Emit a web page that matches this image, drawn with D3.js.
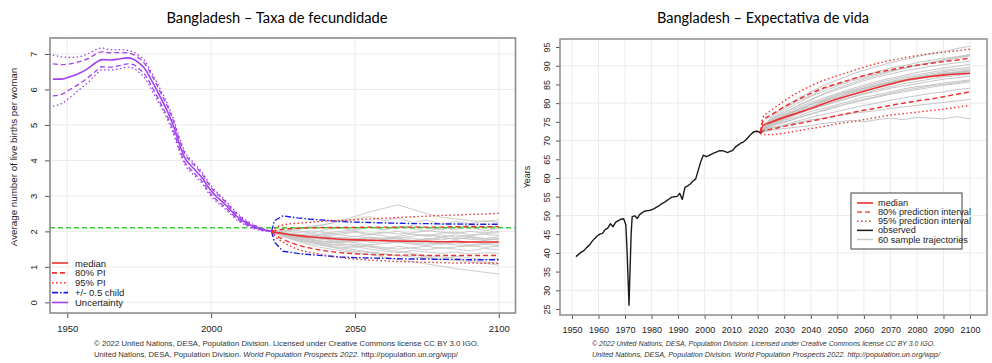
<!DOCTYPE html>
<html><head><meta charset="utf-8">
<script src="https://cdn.jsdelivr.net/npm/d3@7"></script>
<style>body{margin:0;background:#fff} svg{display:block}</style>
</head><body>
<svg id="c" width="992" height="363"></svg>
<script>
// ---------------- DATA: left chart (total fertility) ----------------
const fertXTicks = [1950, 2000, 2050, 2100];
const fertYTicks = [0, 1, 2, 3, 4, 5, 6, 7];
const replacementLevel = 2.1;

const fertPastYears  = [1945,1948,1951,1954,1957,1960,1962,1965,1968,1971,1973,1975,1977,1979,1981,1983,1985,1987,1989,1991,1993,1995,1997,1999,2001,2003,2005,2007,2009,2011,2013,2015,2017,2019,2021];
const fertPastMedian = [6.29,6.29,6.36,6.45,6.58,6.76,6.84,6.83,6.86,6.89,6.85,6.74,6.58,6.30,6.00,5.68,5.35,4.95,4.45,4.05,3.85,3.68,3.50,3.25,3.05,2.90,2.75,2.58,2.42,2.30,2.20,2.13,2.07,2.03,2.00];
const fertPastUp95   = [6.97,6.92,6.90,6.92,7.00,7.12,7.17,7.12,7.12,7.10,7.05,6.95,6.80,6.52,6.22,5.90,5.56,5.15,4.64,4.23,4.02,3.84,3.65,3.40,3.19,3.03,2.87,2.69,2.52,2.38,2.27,2.18,2.11,2.05,2.00];
const fertPastUp80   = [6.72,6.70,6.72,6.78,6.86,7.00,7.06,7.03,7.04,7.03,6.98,6.88,6.72,6.45,6.15,5.82,5.49,5.08,4.58,4.17,3.96,3.79,3.60,3.35,3.14,2.99,2.83,2.65,2.49,2.35,2.24,2.16,2.09,2.04,2.00];
const fertPastLow80  = [5.82,5.86,6.00,6.15,6.32,6.52,6.64,6.63,6.67,6.72,6.70,6.58,6.42,6.14,5.84,5.52,5.20,4.81,4.32,3.93,3.74,3.57,3.40,3.15,2.96,2.81,2.67,2.51,2.36,2.25,2.16,2.10,2.05,2.02,2.00];
const fertPastLow95  = [5.53,5.60,5.78,5.98,6.18,6.42,6.55,6.55,6.58,6.63,6.60,6.48,6.32,6.04,5.74,5.44,5.12,4.73,4.25,3.86,3.67,3.51,3.34,3.09,2.90,2.76,2.62,2.47,2.32,2.22,2.13,2.08,2.03,2.01,2.00];

const fertProjYears  = [2021,2022,2025,2030,2035,2040,2045,2050,2055,2060,2065,2070,2075,2080,2085,2090,2095,2100];
const fertProjMedian = [2.00,1.98,1.94,1.88,1.84,1.81,1.78,1.76,1.75,1.74,1.73,1.72,1.72,1.71,1.71,1.70,1.70,1.70];
const fertProjUp80   = [2.00,2.02,2.06,2.09,2.10,2.11,2.11,2.11,2.12,2.12,2.12,2.12,2.12,2.12,2.13,2.13,2.13,2.13];
const fertProjLow80  = [2.00,1.92,1.78,1.62,1.52,1.45,1.40,1.37,1.35,1.34,1.33,1.33,1.32,1.32,1.32,1.32,1.32,1.32];
const fertProjUp95   = [2.00,2.08,2.18,2.23,2.26,2.29,2.31,2.33,2.35,2.37,2.39,2.41,2.43,2.45,2.46,2.48,2.49,2.51];
const fertProjLow95  = [2.00,1.88,1.70,1.50,1.40,1.32,1.26,1.22,1.19,1.17,1.15,1.14,1.13,1.12,1.11,1.11,1.10,1.10];
const fertHalfUp     = [2.00,2.30,2.44,2.38,2.34,2.31,2.28,2.26,2.25,2.24,2.23,2.22,2.22,2.21,2.21,2.20,2.20,2.20];
const fertHalfLow    = [2.00,1.70,1.44,1.38,1.34,1.31,1.28,1.26,1.25,1.24,1.23,1.22,1.22,1.21,1.21,1.20,1.20,1.20];

const trajYears = [2021,2025,2030,2035,2040,2045,2050,2055,2060,2065,2070,2075,2080,2085,2090,2095,2100];
const fertTraj = [
 [2.0,1.98,2.02,1.95,2.05,2.10,2.02,2.12,2.05,2.15,2.08,2.00,2.10,2.05,2.12,2.02,2.08],
 [2.0,1.90,1.80,1.72,1.65,1.60,1.55,1.62,1.50,1.58,1.52,1.48,1.55,1.50,1.45,1.52,1.48],
 [2.0,1.95,1.92,1.88,1.95,1.90,1.85,1.92,1.88,1.80,1.86,1.92,1.84,1.90,1.86,1.80,1.85],
 [2.0,1.88,1.75,1.70,1.62,1.55,1.48,1.42,1.38,1.30,1.35,1.28,1.22,1.30,1.25,1.20,1.24],
 [2.0,2.02,2.08,2.15,2.20,2.28,2.35,2.42,2.30,2.38,2.25,2.32,2.20,2.28,2.22,2.30,2.25],
 [2.0,1.92,1.85,1.78,1.82,1.75,1.70,1.78,1.72,1.68,1.75,1.70,1.65,1.72,1.68,1.74,1.70],
 [2.0,1.90,1.82,1.76,1.70,1.72,1.68,1.62,1.66,1.70,1.64,1.60,1.66,1.62,1.58,1.64,1.60],
 [2.0,1.96,1.90,1.94,1.88,1.92,1.98,1.90,1.95,2.00,1.92,1.88,1.95,1.98,1.90,1.94,1.96],
 [2.0,1.85,1.72,1.60,1.52,1.45,1.40,1.35,1.28,1.20,1.15,1.08,1.02,0.95,0.90,0.85,0.80],
 [2.0,1.94,1.88,1.84,1.78,1.74,1.80,1.76,1.82,1.78,1.74,1.80,1.76,1.82,1.78,1.75,1.80],
 [2.0,2.00,2.05,2.12,2.20,2.30,2.42,2.55,2.65,2.75,2.62,2.50,2.40,2.35,2.30,2.28,2.32],
 [2.0,1.90,1.78,1.68,1.60,1.52,1.58,1.50,1.45,1.40,1.46,1.42,1.38,1.42,1.36,1.40,1.38],
 [2.0,1.92,1.86,1.90,1.84,1.80,1.86,1.82,1.78,1.84,1.80,1.76,1.82,1.78,1.84,1.80,1.76],
 [2.0,1.94,1.90,1.86,1.92,1.96,2.00,1.94,1.98,1.92,1.96,2.02,1.98,1.94,2.00,1.96,2.00],
 [2.0,1.88,1.78,1.72,1.66,1.62,1.64,1.58,1.55,1.50,1.54,1.58,1.52,1.56,1.60,1.55,1.58],
 [2.0,1.92,1.84,1.76,1.70,1.66,1.60,1.56,1.50,1.44,1.38,1.32,1.28,1.24,1.18,1.14,1.10],
 [2.0,1.96,1.92,1.86,1.80,1.84,1.78,1.72,1.76,1.70,1.66,1.70,1.64,1.68,1.62,1.66,1.64],
 [2.0,1.94,1.96,2.02,1.96,2.00,2.06,2.12,2.05,2.10,2.16,2.10,2.05,2.12,2.18,2.12,2.15],
 [2.0,1.90,1.82,1.75,1.72,1.68,1.74,1.70,1.66,1.72,1.68,1.64,1.70,1.74,1.70,1.66,1.72],
 [2.0,1.86,1.74,1.65,1.58,1.50,1.44,1.40,1.36,1.32,1.28,1.25,1.20,1.18,1.14,1.10,1.05],
 [2.0,1.96,1.88,1.82,1.86,1.82,1.78,1.84,1.80,1.86,1.92,1.86,1.90,1.84,1.88,1.92,1.88],
 [2.0,1.92,1.86,1.80,1.76,1.70,1.76,1.82,1.76,1.80,1.74,1.78,1.84,1.78,1.82,1.76,1.80]
];

// ---------------- DATA: right chart (life expectancy) ----------------
const leXTicks = [1950,1960,1970,1980,1990,2000,2010,2020,2030,2040,2050,2060,2070,2080,2090,2100];
const leYTicks = [25,30,35,40,45,50,55,60,65,70,75,80,85,90,95];
const leGridY  = [30,40,50,60,70,80,90];

const leObsYears  = [1951.5,1952.5,1953.5,1954.5,1955.5,1956.5,1957.5,1958.5,1959.5,1960.5,1961.5,1962.5,1963.5,1964.5,1965.5,1966.5,1967.5,1968.5,1969.5,1970.3,1970.8,1971.5,1972.3,1972.7,1973.7,1974.6,1975.6,1976.6,1977.6,1978.6,1979.6,1980.6,1981.6,1982.6,1983.6,1984.6,1985.6,1986.6,1987.6,1988.6,1989.6,1990.6,1991.6,1992.6,1993.6,1994.6,1995.6,1996.6,1997.6,1998.6,1999.5,2000.6,2001.6,2002.6,2003.6,2004.6,2005.6,2006.6,2007.6,2008.6,2009.6,2010.6,2011.6,2012.6,2013.6,2014.6,2015.6,2016.6,2017.6,2018.6,2019.6,2020.4,2021];
const leObsValues = [39.0,39.6,40.2,40.6,41.4,42.0,43.0,43.8,44.5,45.0,45.2,46.2,46.6,47.8,47.0,48.2,48.6,49.0,49.1,47.5,40.0,26.0,45.0,49.7,49.9,49.2,50.3,50.8,51.2,51.3,51.4,51.7,52.1,52.5,53.0,53.4,53.9,54.4,54.9,55.0,55.1,55.9,54.3,57.5,57.9,58.4,59.2,59.7,62.1,64.5,66.1,65.7,66.0,66.4,66.7,67.0,67.3,67.3,67.1,66.8,67.1,67.4,68.3,68.8,69.3,69.6,70.2,71.0,71.8,72.4,72.5,72.4,72.0];

const leProjYears  = [2021,2022,2025,2030,2035,2040,2045,2050,2055,2060,2065,2070,2075,2080,2085,2090,2095,2100];
const leProjMedian = [72.0,74.0,74.9,76.2,77.4,78.6,79.9,81.1,82.2,83.2,84.2,85.1,86.0,86.6,87.1,87.5,87.8,88.0];
const leProjUp80   = [72.0,75.3,76.8,79.0,80.9,82.6,84.1,85.2,86.3,87.3,88.2,88.9,89.6,90.1,90.6,91.1,91.5,92.0];
const leProjLow80  = [72.0,72.6,73.0,73.8,74.5,75.2,75.9,76.7,77.4,78.1,78.7,79.4,80.0,80.6,81.1,81.7,82.4,83.0];
const leProjUp95   = [72.0,76.2,78.0,80.6,82.8,84.6,86.1,87.3,88.5,89.6,90.6,91.4,92.1,92.7,93.2,93.6,94.0,94.4];
const leProjLow95  = [72.0,71.6,71.6,72.0,72.6,73.2,73.8,74.5,75.0,75.6,76.2,76.8,77.2,77.6,78.0,78.4,78.9,79.4];

const leTraj = [
 [72.0,75.5,77.5,79.2,80.8,82.4,83.6,84.8,86.0,87.0,87.8,88.6,89.2,89.8,90.3,90.8,91.2],
 [72.0,74.2,75.0,76.0,77.2,78.0,79.0,80.2,81.0,81.8,82.6,83.4,84.0,84.6,85.0,85.5,86.0],
 [72.0,75.0,76.8,78.2,79.0,80.6,81.4,82.8,83.6,84.8,85.4,86.2,87.0,87.4,88.0,88.2,88.8],
 [72.0,73.5,74.0,74.8,75.6,76.0,76.6,77.2,77.6,78.0,78.6,79.0,79.4,79.8,80.2,80.6,81.0],
 [72.0,76.0,78.5,80.6,82.0,83.8,85.0,86.2,87.4,88.4,89.4,90.0,90.8,91.4,92.0,92.4,93.0],
 [72.0,74.6,76.0,77.6,78.6,79.8,81.2,82.0,83.2,84.0,85.0,85.8,86.4,87.0,87.6,88.0,88.4],
 [72.0,74.0,75.4,76.4,77.8,78.6,79.6,80.6,81.6,82.2,83.0,83.8,84.4,84.8,85.4,85.8,86.2],
 [72.0,75.2,77.0,78.8,80.2,81.4,82.6,83.8,84.8,85.8,86.6,87.4,88.2,88.8,89.4,89.8,90.4],
 [72.0,72.8,73.2,73.6,74.0,74.6,75.0,75.4,75.0,75.6,76.0,75.6,76.2,76.0,75.8,76.4,75.8],
 [72.0,74.8,76.4,78.0,79.6,80.8,82.0,83.2,84.0,84.8,85.6,86.2,86.8,87.4,87.8,88.2,88.6],
 [72.0,75.6,78.0,80.0,81.8,83.2,84.6,85.8,86.8,87.8,88.6,89.4,90.2,90.8,91.6,92.2,92.8],
 [72.0,74.4,75.8,77.0,78.4,79.4,80.4,81.4,82.4,83.2,84.0,84.6,85.2,85.8,86.4,86.8,87.2],
 [72.0,74.9,76.6,78.4,79.8,81.0,82.4,83.4,84.4,85.4,86.2,87.0,87.6,88.2,88.8,89.2,89.6],
 [72.0,73.8,74.8,76.0,77.0,78.2,79.2,80.0,80.8,81.6,82.4,83.0,83.6,84.2,84.8,85.2,85.6],
 [72.0,75.4,77.4,79.4,81.0,82.6,84.0,85.2,86.4,87.4,88.4,89.2,90.0,90.8,91.4,92.0,92.6],
 [72.0,74.6,76.2,77.8,79.0,80.4,81.6,82.6,83.8,84.6,85.4,86.2,86.8,87.4,88.0,88.4,88.8],
 [72.0,76.4,79.0,81.2,83.0,84.8,86.2,87.6,88.8,89.8,90.8,91.6,92.4,93.2,93.8,94.6,95.2],
 [72.0,74.2,75.6,77.2,78.4,79.4,80.6,81.6,82.6,83.6,84.4,85.2,85.8,86.4,87.0,87.4,87.8],
 [72.0,75.0,76.8,78.2,79.6,80.8,82.0,83.0,84.0,85.0,85.8,86.6,87.2,87.8,88.4,88.8,89.2],
 [72.0,73.2,74.2,75.2,76.2,77.0,77.8,78.6,79.4,80.0,80.8,81.4,82.0,82.6,83.0,83.6,84.0]
];

// ---------------- DRAWING ----------------
const svg = d3.select('#c');
const FONT = "'Liberation Sans', Arial, Helvetica, sans-serif";
const PURPLE = '#a040f0', RED = '#ee3030', BLUE = '#1a1ae6', GREEN = '#3ccc3c', GRAY = '#c6c6c6';
const DASH = '5,3', DOT = '1.5,2.5', DASHDOT = '6,2,1.5,2';

function series(years, vals) { return years.map((y, i) => [y, vals[i]]); }

function drawLine(g, x, y, data, color, width, dash, curve) {
  const gen = d3.line().x(d => x(d[0])).y(d => y(d[1])).curve(curve || d3.curveLinear);
  g.append('path').attr('d', gen(data)).attr('fill', 'none')
    .attr('stroke', color).attr('stroke-width', width)
    .attr('stroke-dasharray', dash || null).attr('stroke-linejoin', 'round');
}

// ===== Left chart =====
const L = {x0: 50, x1: 515.5, y0: 38, y1: 313};
const xL = d3.scaleLinear().domain([1944, 2105.8]).range([L.x0, L.x1]);
const yL = d3.scaleLinear().domain([-0.3, 7.45]).range([L.y1, L.y0]);
const gL = svg.append('g');
gL.append('defs').append('clipPath').attr('id', 'clipL').append('rect')
  .attr('x', L.x0).attr('y', L.y0).attr('width', L.x1 - L.x0).attr('height', L.y1 - L.y0);

gL.selectAll('.hg').data(fertYTicks).join('line')
  .attr('x1', L.x0).attr('x2', L.x1).attr('y1', d => yL(d)).attr('y2', d => yL(d))
  .attr('stroke', '#ebebeb').attr('stroke-width', 1);
gL.selectAll('.vg').data(fertXTicks).join('line')
  .attr('y1', L.y0).attr('y2', L.y1).attr('x1', d => xL(d)).attr('x2', d => xL(d))
  .attr('stroke', '#ebebeb').attr('stroke-width', 1);

const pL = gL.append('g').attr('clip-path', 'url(#clipL)');
fertTraj.forEach(t => drawLine(pL, xL, yL, series(trajYears, t), GRAY, 0.9));
drawLine(pL, xL, yL, [[1944, replacementLevel], [2105.8, replacementLevel]], GREEN, 1.5, DASH);
drawLine(pL, xL, yL, series(fertProjYears, fertHalfUp), BLUE, 1.4, DASHDOT);
drawLine(pL, xL, yL, series(fertProjYears, fertHalfLow), BLUE, 1.4, DASHDOT);
const mc = d3.curveMonotoneX;
drawLine(pL, xL, yL, series(fertProjYears, fertProjUp95), RED, 1.4, DOT, mc);
drawLine(pL, xL, yL, series(fertProjYears, fertProjLow95), RED, 1.4, DOT, mc);
drawLine(pL, xL, yL, series(fertProjYears, fertProjUp80), RED, 1.4, DASH, mc);
drawLine(pL, xL, yL, series(fertProjYears, fertProjLow80), RED, 1.4, DASH, mc);
drawLine(pL, xL, yL, series(fertProjYears, fertProjMedian), RED, 1.6, null, mc);
drawLine(pL, xL, yL, series(fertPastYears, fertPastUp95), PURPLE, 1.3, DOT, mc);
drawLine(pL, xL, yL, series(fertPastYears, fertPastLow95), PURPLE, 1.3, DOT, mc);
drawLine(pL, xL, yL, series(fertPastYears, fertPastUp80), PURPLE, 1.3, DASH, mc);
drawLine(pL, xL, yL, series(fertPastYears, fertPastLow80), PURPLE, 1.3, DASH, mc);
drawLine(pL, xL, yL, series(fertPastYears, fertPastMedian), PURPLE, 1.6, null, mc);

// axes left
const axBL = gL.append('g').attr('transform', `translate(0,${L.y1})`)
  .call(d3.axisBottom(xL).tickValues(fertXTicks).tickSize(5).tickPadding(7).tickFormat(d3.format('d')));
axBL.select('.domain').remove();
axBL.selectAll('line').attr('stroke', '#555');
axBL.selectAll('text').attr('font-family', FONT).attr('font-size', 9.5).attr('fill', '#222');
const axLL = gL.append('g').attr('transform', `translate(${L.x0},0)`)
  .call(d3.axisLeft(yL).tickValues(fertYTicks).tickSize(5).tickFormat(d3.format('d')));
axLL.select('.domain').remove();
axLL.selectAll('line').attr('stroke', '#555');
axLL.selectAll('text').attr('x', 0).attr('dy', null).attr('y', 0)
  .attr('transform', 'translate(-16.5,0) rotate(-90)').attr('text-anchor', 'middle')
  .attr('dominant-baseline', 'central').attr('font-family', FONT).attr('font-size', 9.5).attr('fill', '#222');
gL.append('text').attr('transform', 'translate(13,157) rotate(-90)').attr('text-anchor', 'middle')
  .attr('dominant-baseline', 'central').attr('font-family', FONT).attr('font-size', 9.8).attr('fill', '#222')
  .text('Average number of live births per woman');

// legend left
const legL = [
  {label: 'median', color: RED, dash: null},
  {label: '80% PI', color: RED, dash: DASH},
  {label: '95% PI', color: RED, dash: DOT},
  {label: '+/- 0.5 child', color: BLUE, dash: DASHDOT},
  {label: 'Uncertainty', color: PURPLE, dash: null}
];
const legLY = d3.scalePoint().domain(legL.map(d => d.label)).range([263, 302.5]);
legL.forEach(d => {
  gL.append('line').attr('x1', 52).attr('x2', 68).attr('y1', legLY(d.label)).attr('y2', legLY(d.label))
    .attr('stroke', d.color).attr('stroke-width', 1.6).attr('stroke-dasharray', d.dash);
  gL.append('text').attr('x', 75).attr('y', legLY(d.label)).attr('dominant-baseline', 'central')
    .attr('font-family', FONT).attr('font-size', 9.5).attr('fill', '#222').text(d.label);
});
gL.append('rect').attr('x', L.x0).attr('y', L.y0).attr('width', L.x1 - L.x0).attr('height', L.y1 - L.y0)
  .attr('fill', 'none').attr('stroke', '#8c8c8c').attr('stroke-width', 1.6);

// ===== Right chart =====
const R = {x0: 560, x1: 987, y0: 39, y1: 315};
const xR = d3.scaleLinear().domain([1945.5, 2106.4]).range([R.x0, R.x1]);
const yR = d3.scaleLinear().domain([23.4, 97.14]).range([R.y1, R.y0]);
const gR = svg.append('g');
gR.append('defs').append('clipPath').attr('id', 'clipR').append('rect')
  .attr('x', R.x0).attr('y', R.y0).attr('width', R.x1 - R.x0).attr('height', R.y1 - R.y0);
gR.selectAll('.hg').data(leGridY).join('line')
  .attr('x1', R.x0).attr('x2', R.x1).attr('y1', d => yR(d)).attr('y2', d => yR(d))
  .attr('stroke', '#ececec').attr('stroke-width', 1);
gR.selectAll('.vg').data(leXTicks).join('line')
  .attr('y1', R.y0).attr('y2', R.y1).attr('x1', d => xR(d)).attr('x2', d => xR(d))
  .attr('stroke', '#ececec').attr('stroke-width', 1);

const pR = gR.append('g').attr('clip-path', 'url(#clipR)');
leTraj.forEach(t => drawLine(pR, xR, yR, series(trajYears, t), '#c0c0c0', 0.9));
drawLine(pR, xR, yR, series(leProjYears, leProjUp95), RED, 1.4, DOT, mc);
drawLine(pR, xR, yR, series(leProjYears, leProjLow95), RED, 1.4, DOT, mc);
drawLine(pR, xR, yR, series(leProjYears, leProjUp80), RED, 1.5, DASH, mc);
drawLine(pR, xR, yR, series(leProjYears, leProjLow80), RED, 1.5, DASH, mc);
drawLine(pR, xR, yR, series(leProjYears, leProjMedian), RED, 1.6, null, mc);
drawLine(pR, xR, yR, series(leObsYears, leObsValues), '#1a1a1a', 1.4);

const axBR = gR.append('g').attr('transform', `translate(0,${R.y1})`)
  .call(d3.axisBottom(xR).tickValues(leXTicks).tickSize(4).tickPadding(8).tickFormat(d3.format('d')));
axBR.select('.domain').remove();
axBR.selectAll('line').attr('stroke', '#555');
axBR.selectAll('text').attr('font-family', FONT).attr('font-size', 9).attr('fill', '#222');
const axLR = gR.append('g').attr('transform', `translate(${R.x0},0)`)
  .call(d3.axisLeft(yR).tickValues(leYTicks).tickSize(4).tickFormat(d3.format('d')));
axLR.select('.domain').remove();
axLR.selectAll('line').attr('stroke', '#555');
axLR.selectAll('text').attr('x', 0).attr('dy', null).attr('y', 0)
  .attr('transform', 'translate(-13,0) rotate(-90)').attr('text-anchor', 'middle')
  .attr('dominant-baseline', 'central').attr('font-family', FONT).attr('font-size', 9).attr('fill', '#222');
gR.append('text').attr('transform', 'translate(527,177) rotate(-90)').attr('text-anchor', 'middle')
  .attr('dominant-baseline', 'central').attr('font-family', FONT).attr('font-size', 9).attr('fill', '#222')
  .text('Years');

// legend right
const legR = [
  {label: 'median', color: RED, dash: null, w: 1.6},
  {label: '80% prediction interval', color: RED, dash: DASH, w: 1.4},
  {label: '95% prediction interval', color: RED, dash: DOT, w: 1.4},
  {label: 'observed', color: '#1a1a1a', dash: null, w: 1.5},
  {label: '60 sample trajectories', color: '#c8c8c8', dash: null, w: 1.5}
];
const legRY = d3.scalePoint().domain(legR.map(d => d.label)).range([203, 239.5]);
gR.append('rect').attr('x', 851).attr('y', 193).attr('width', 111).attr('height', 56)
  .attr('fill', '#fff').attr('stroke', '#606060').attr('stroke-width', 1.2);
legR.forEach(d => {
  gR.append('line').attr('x1', 857).attr('x2', 873).attr('y1', legRY(d.label)).attr('y2', legRY(d.label))
    .attr('stroke', d.color).attr('stroke-width', d.w).attr('stroke-dasharray', d.dash);
  gR.append('text').attr('x', 878).attr('y', legRY(d.label)).attr('dominant-baseline', 'central')
    .attr('font-family', FONT).attr('font-size', 9.2).attr('fill', '#222').text(d.label);
});
gR.append('rect').attr('x', R.x0).attr('y', R.y0).attr('width', R.x1 - R.x0).attr('height', R.y1 - R.y0)
  .attr('fill', 'none').attr('stroke', '#8c8c8c').attr('stroke-width', 1.5);

// ===== Titles =====
const TFONT = "Lato, 'Open Sans', 'Noto Sans', sans-serif";
svg.append('text').attr('x', 277).attr('y', 23).attr('text-anchor', 'middle')
  .attr('font-family', TFONT).attr('font-size', 15.5).attr('fill', '#000')
  .attr('textLength', 221).attr('lengthAdjust', 'spacingAndGlyphs')
  .text('Bangladesh – Taxa de fecundidade');
svg.append('text').attr('x', 763).attr('y', 23).attr('text-anchor', 'middle')
  .attr('font-family', TFONT).attr('font-size', 15.5).attr('fill', '#000')
  .attr('textLength', 212).attr('lengthAdjust', 'spacingAndGlyphs')
  .text('Bangladesh – Expectativa de vida');

// ===== Footers =====
function footer(x, y1, y2, w1, w2, fs, italicAll) {
  svg.append('text').attr('x', x).attr('y', y1).attr('font-family', FONT).attr('font-size', fs)
    .attr('fill', '#333').attr('font-style', italicAll ? 'italic' : null)
    .attr('textLength', w1).attr('lengthAdjust', 'spacingAndGlyphs')
    .text('© 2022 United Nations, DESA, Population Division. Licensed under Creative Commons license CC BY 3.0 IGO.');
  const t = svg.append('text').attr('x', x).attr('y', y2).attr('font-family', FONT).attr('font-size', fs)
    .attr('fill', '#333').attr('font-style', italicAll ? 'italic' : null)
    .attr('textLength', w2).attr('lengthAdjust', 'spacingAndGlyphs');
  t.append('tspan').text('United Nations, DESA, Population Division. ');
  t.append('tspan').attr('font-style', 'italic').text('World Population Prospects 2022');
  t.append('tspan').text('. http://population.un.org/wpp/');
}
footer(94, 346, 357, 385, 364, 7.6, false);
footer(592, 345.5, 356.5, 343, 348, 7.0, true);
</script></body></html>
